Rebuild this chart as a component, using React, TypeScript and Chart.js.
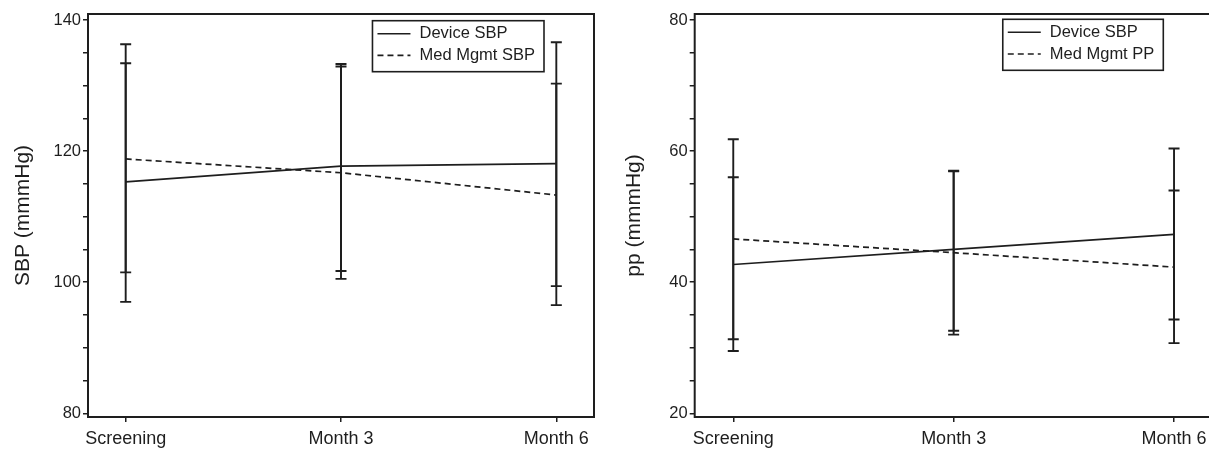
import React, { useEffect, useRef } from 'react';
import { Chart, registerables } from 'chart.js';

Chart.register(...registerables);

// ---- data ----
const timepoints = ['Screening', 'Month 3', 'Month 6'];

const sbpDeviceLabel = 'Device SBP';
const sbpMedLabel = 'Med Mgmt SBP';
const sbpDevice = [115.3, 117.7, 118.1];
const sbpDeviceLow = [97.0, 101.7, 99.4];
const sbpDeviceHigh = [133.4, 133.3, 136.6];
const sbpMed = [118.8, 116.7, 113.3];
const sbpMedLow = [101.5, 100.5, 96.5];
const sbpMedHigh = [136.3, 132.9, 130.3];
const sbpTicks = [80, 100, 120, 140];

const ppDeviceLabel = 'Device SBP';
const ppMedLabel = 'Med Mgmt PP';
const ppDevice = [42.7, 45.0, 47.3];
const ppDeviceLow = [29.5, 32.6, 34.3];
const ppDeviceHigh = [56.0, 57.0, 60.4];
const ppMed = [46.6, 44.5, 42.3];
const ppMedLow = [31.3, 32.0, 30.7];
const ppMedHigh = [61.8, 56.9, 54.0];
const ppTicks = [20, 40, 60, 80];

const INK = '#1e1e1e';
const FONT = "'Liberation Sans', Arial, Helvetica, sans-serif";

const errorBarPlugin = {
  id: 'errorBars',
  afterDatasetsDraw(chart: any, _args: any, opts: any) {
    const { ctx } = chart;
    const x = chart.scales.x;
    const y = chart.scales.y;
    const bars = (opts && opts.bars) || [];
    ctx.save();
    ctx.strokeStyle = INK;
    ctx.lineWidth = 1.9;
    bars.forEach((b: any) => {
      b.low.forEach((lo: number, i: number) => {
        const hi = b.high[i];
        const px = x.getPixelForValue(i);
        const yl = y.getPixelForValue(lo);
        const yh = y.getPixelForValue(hi);
        ctx.beginPath();
        ctx.moveTo(px, yl);
        ctx.lineTo(px, yh);
        ctx.moveTo(px - 5.5, yl);
        ctx.lineTo(px + 5.5, yl);
        ctx.moveTo(px - 5.5, yh);
        ctx.lineTo(px + 5.5, yh);
        ctx.stroke();
      });
    });
    ctx.restore();
  },
};

const framePlugin = {
  id: 'frameBox',
  afterDraw(chart: any, _args: any, opts: any) {
    const { ctx, chartArea } = chart;
    ctx.save();
    ctx.strokeStyle = INK;
    ctx.lineWidth = 2;
    ctx.strokeRect(chartArea.left, chartArea.top, chartArea.right - chartArea.left, chartArea.bottom - chartArea.top);

    // boxed legend
    const items = (opts && opts.items) || [];
    if (items.length) {
      ctx.font = `16.5px ${FONT}`;
      let maxW = 0;
      items.forEach((it: any) => {
        maxW = Math.max(maxW, ctx.measureText(it.text).width);
      });
      const w = 56 + maxW;
      const h = 51;
      const right = chartArea.right - opts.insetRight;
      const left = right - w;
      const top = chartArea.top + opts.insetTop;
      ctx.lineWidth = 1.6;
      ctx.strokeRect(left, top, w, h);
      items.forEach((it: any, i: number) => {
        const cy = top + 13 + i * 21.7;
        ctx.beginPath();
        ctx.lineWidth = 1.6;
        ctx.setLineDash(it.dash || []);
        ctx.moveTo(left + 5, cy);
        ctx.lineTo(left + 38, cy);
        ctx.stroke();
        ctx.setLineDash([]);
        ctx.fillStyle = INK;
        ctx.textBaseline = 'middle';
        ctx.textAlign = 'left';
        ctx.fillText(it.text, left + 47, cy);
      });
    }
    ctx.restore();
  },
};

type PanelProps = {
  left: number;
  width: number;
  yAxisWidth: number;
  padRight: number;
  title: string;
  titleCenter: number;
  yMin: number;
  yMax: number;
  yLabels: number[];
  device: number[];
  deviceLow: number[];
  deviceHigh: number[];
  med: number[];
  medLow: number[];
  medHigh: number[];
  deviceLabel: string;
  medLabel: string;
  legendInsetRight: number;
  legendInsetTop: number;
};

const HEIGHT = 450;
const PLOT_TOP = 14;
const PLOT_BOTTOM = 417;

function Panel(p: PanelProps) {
  const ref = useRef<HTMLCanvasElement>(null);
  useEffect(() => {
    const titleSize = 21;
    const titleLH = titleSize * 1.2;
    const chart = new Chart(ref.current as HTMLCanvasElement, {
      type: 'line',
      data: {
        datasets: [
          {
            label: p.deviceLabel,
            data: p.device.map((v, i) => ({ x: i, y: v })),
            borderColor: INK,
            borderWidth: 1.7,
            pointRadius: 0,
            fill: false,
            tension: 0,
          },
          {
            label: p.medLabel,
            data: p.med.map((v, i) => ({ x: i, y: v })),
            borderColor: INK,
            borderWidth: 1.7,
            borderDash: [6, 4],
            pointRadius: 0,
            fill: false,
            tension: 0,
          },
        ],
      },
      options: {
        responsive: false,
        animation: false,
        events: [],
        layout: { padding: { top: PLOT_TOP, right: p.padRight, left: 0, bottom: 0 } },
        plugins: {
          legend: { display: false },
          tooltip: { enabled: false },
          errorBars: {
            bars: [
              { low: p.deviceLow, high: p.deviceHigh },
              { low: p.medLow, high: p.medHigh },
            ],
          },
          frameBox: {
            insetRight: p.legendInsetRight,
            insetTop: p.legendInsetTop,
            items: [
              { text: p.deviceLabel, dash: [] },
              { text: p.medLabel, dash: [6, 4] },
            ],
          },
        } as any,
        scales: {
          x: {
            type: 'linear',
            min: -0.175,
            max: 2.175,
            border: { display: false },
            grid: {
              display: true,
              drawOnChartArea: false,
              drawTicks: true,
              tickLength: 5,
              color: INK,
              lineWidth: 1.5,
            },
            ticks: {
              stepSize: 1,
              includeBounds: false,
              autoSkip: false,
              maxRotation: 0,
              padding: 6,
              color: INK,
              font: { family: FONT, size: 18 },
              callback: (v: any) => (Number.isInteger(v) ? timepoints[v] ?? '' : ''),
            },
            afterFit: (scale: any) => {
              scale.height = HEIGHT - PLOT_BOTTOM;
            },
          },
          y: {
            type: 'linear',
            min: p.yMin,
            max: p.yMax,
            border: { display: false },
            grid: {
              display: true,
              drawOnChartArea: false,
              drawTicks: true,
              tickLength: 5,
              color: INK,
              lineWidth: 1.5,
            },
            ticks: {
              stepSize: 5,
              includeBounds: false,
              autoSkip: false,
              padding: 2,
              color: INK,
              font: { family: FONT, size: 16.5 },
              callback: (v: any) => (p.yLabels.includes(v) ? String(v) : ''),
            },
            title: {
              display: true,
              text: p.title,
              color: INK,
              font: { family: FONT, size: titleSize, lineHeight: 1.2 },
              padding: { top: p.titleCenter - titleLH / 2, bottom: 0 },
            },
            afterFit: (scale: any) => {
              scale.width = p.yAxisWidth;
            },
          },
        },
      },
      plugins: [errorBarPlugin, framePlugin],
    } as any);
    return () => chart.destroy();
  }, []);
  return (
    <canvas
      ref={ref}
      width={p.width}
      height={HEIGHT}
      style={{ position: 'absolute', left: p.left, top: 0, width: p.width, height: HEIGHT }}
    />
  );
}

export default function App() {
  return (
    <div
      style={{
        position: 'fixed',
        left: 0,
        top: 0,
        width: 1209,
        height: 450,
        overflow: 'hidden',
        background: '#fff',
      }}
    >
      <Panel
        left={0}
        width={600}
        yAxisWidth={88}
        padRight={6}
        title="SBP (mmmHg)"
        titleCenter={23}
        yMin={79.43}
        yMax={140.92}
        yLabels={sbpTicks}
        device={sbpDevice}
        deviceLow={sbpDeviceLow}
        deviceHigh={sbpDeviceHigh}
        med={sbpMed}
        medLow={sbpMedLow}
        medHigh={sbpMedHigh}
        deviceLabel={sbpDeviceLabel}
        medLabel={sbpMedLabel}
        legendInsetRight={50}
        legendInsetTop={6.7}
      />
      <Panel
        left={600}
        width={620}
        yAxisWidth={94.7}
        padRight={7.4}
        title="pp (mmmHg)"
        titleCenter={34}
        yMin={19.43}
        yMax={80.92}
        yLabels={ppTicks}
        device={ppDevice}
        deviceLow={ppDeviceLow}
        deviceHigh={ppDeviceHigh}
        med={ppMed}
        medLow={ppMedLow}
        medHigh={ppMedHigh}
        deviceLabel={ppDeviceLabel}
        medLabel={ppMedLabel}
        legendInsetRight={49.3}
        legendInsetTop={5.3}
      />
    </div>
  );
}
